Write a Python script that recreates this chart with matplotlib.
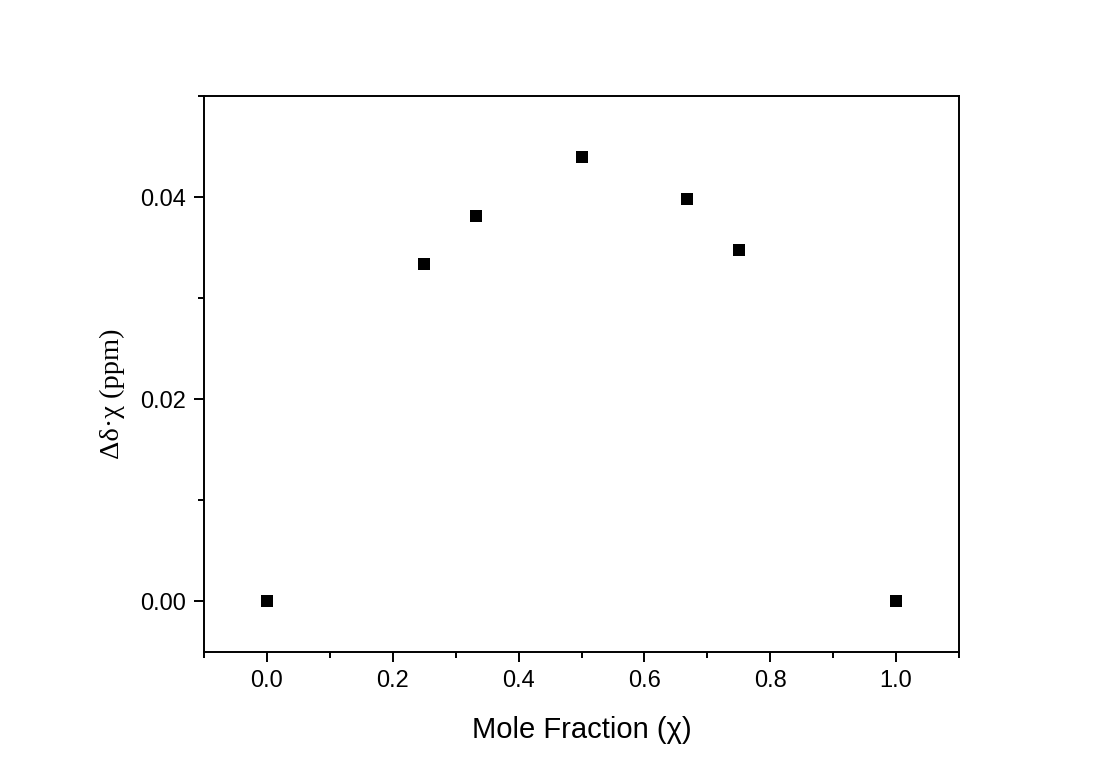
import matplotlib
matplotlib.use('Agg')
import matplotlib.pyplot as plt
from matplotlib.ticker import MultipleLocator

# mole fraction vs job plot values
mole_frac = [0.0, 0.25, 0.333, 0.5, 0.667, 0.75, 1.0]
dd_chi = [0.0, 0.0334, 0.0381, 0.0440, 0.0398, 0.0348, 0.0]

x_ticks = [0.0, 0.2, 0.4, 0.6, 0.8, 1.0]
y_ticks = [0.00, 0.02, 0.04]

fig = plt.figure(figsize=(11, 7.72), dpi=100)
ax = fig.add_axes([204/1100, 1 - 652/772, 755/1100, 556/772])

ax.plot(mole_frac, dd_chi, 's', color='black', markersize=8.6, markeredgewidth=0)

ax.set_xlim(-0.1, 1.1)
ax.set_ylim(-0.005, 0.05)
ax.set_xticks(x_ticks)
ax.set_xticklabels(['%.1f' % v for v in x_ticks])
ax.set_yticks(y_ticks)
ax.set_yticklabels(['%.2f' % v for v in y_ticks])
ax.xaxis.set_minor_locator(MultipleLocator(0.1))
ax.yaxis.set_minor_locator(MultipleLocator(0.01))

for s in ax.spines.values():
    s.set_linewidth(1.4)
ax.tick_params(which='both', direction='out', width=1.4, top=False, right=False)
ax.tick_params(which='major', length=7, labelsize=17, pad=6)
ax.tick_params(which='minor', length=4.5)
for lab in ax.get_xticklabels() + ax.get_yticklabels():
    lab.set_family(['Liberation Sans', 'DejaVu Sans'])

ax.set_xlabel('Mole Fraction (χ)', fontsize=21, family=['Liberation Sans', 'DejaVu Sans'])
ax.xaxis.set_label_coords(0.5, -0.115)
ax.set_ylabel('Δδ·χ (ppm)', fontsize=20.5, family=['Liberation Serif', 'DejaVu Serif'])
ax.yaxis.set_label_coords(-0.105, 0.464)

fig.savefig('out.png', dpi=100, facecolor='white')
